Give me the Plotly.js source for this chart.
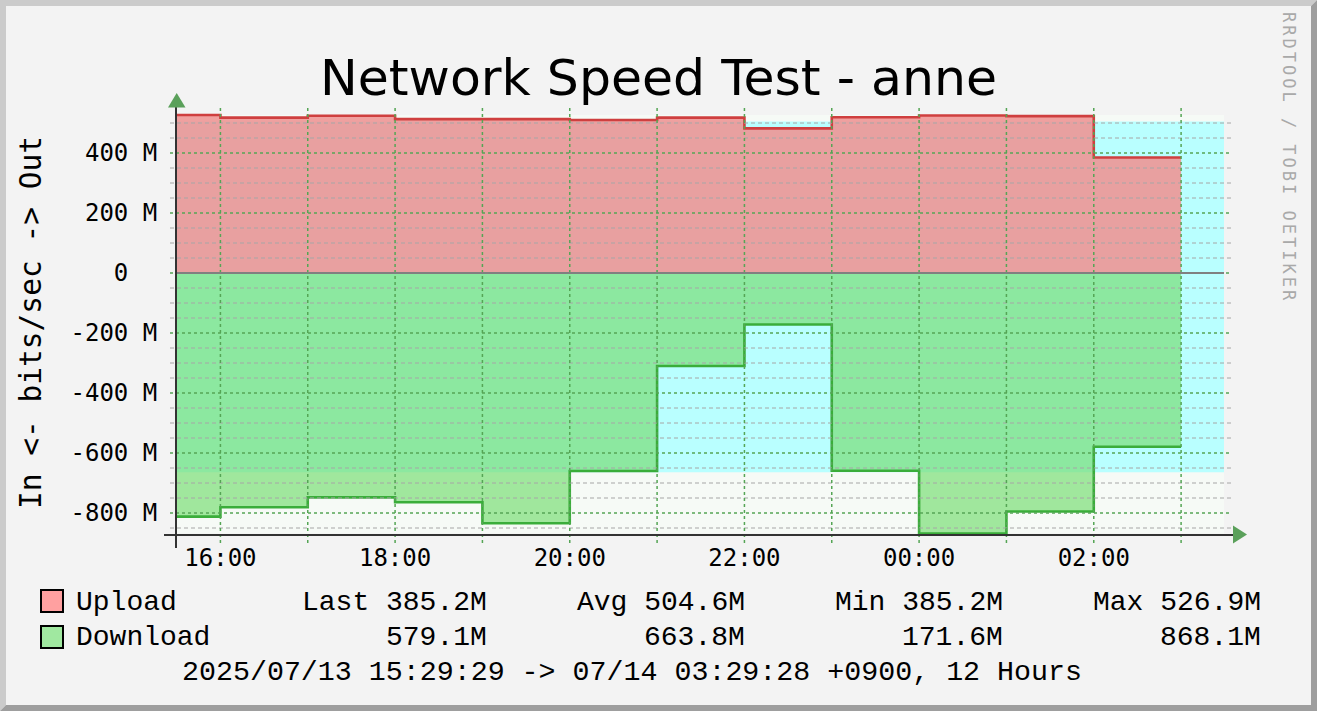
<!DOCTYPE html>
<html><head><meta charset="utf-8">
<script src="https://cdn.plot.ly/plotly-3.0.1.min.js"></script>
<style>
html,body{margin:0;padding:0;background:#F3F3F3;}
#chart{width:1317px;height:711px;}
.annotation[data-index="0"] text{letter-spacing:3px;}
</style></head><body><div id="chart"></div>
<script>
// ---------- data ----------
const titleText = 'Network Speed Test - anne';
const yAxisLabel = 'In &lt;- bits/sec -&gt; Out';
const watermark = 'RRDTOOL / TOBI OETIKER';
const rangeStart = '2025-07-13 15:29:29';
const rangeEnd = '2025-07-14 03:29:28';
const sampleTimes = ['2025-07-13 15:29:29','2025-07-13 16:00','2025-07-13 17:00','2025-07-13 18:00',
  '2025-07-13 19:00','2025-07-13 20:00','2025-07-13 21:00','2025-07-13 22:00','2025-07-13 23:00',
  '2025-07-14 00:00','2025-07-14 01:00','2025-07-14 02:00'];
const lastSampleEnd = '2025-07-14 03:00';
const uploadM = [526.9,518,524,513,513,510,518,482,519,525,523,385.2];
const downloadM = [812,781,748,764,834,660,310,171.6,659,868.1,795,579.1];
const seriesNames = ['Upload','Download'];
const statNames = ['Last','Avg','Min','Max'];
const uploadStats = [385.2,504.6,385.2,526.9];
const downloadStats = [579.1,663.8,171.6,868.1];
const yTickM = [-800,-600,-400,-200,0,200,400];
const periodText = '2025/07/13 15:29:29 -&gt; 07/14 03:29:28 +0900, 12 Hours';

// ---------- geometry / style ----------
const W = 1317, H = 711;
const PL = 176, PR = 1232, PT = 108, PB = 535;
const PW = PR - PL, PH = PB - PT;
const px2x = p => (p - PL) / PW;
const py2y = p => (PB - p) / PH;
const axisEnd = '2025-07-14 03:34:58';
const M = 1e6;
const greenGrid = '#55A555';
const grayGrid = '#A6A6A6';
const mono = 'DejaVu Sans Mono';
const legendFont = 'Liberation Mono';

const xs = sampleTimes.concat([lastSampleEnd]);
const upY = uploadM.concat([uploadM[uploadM.length-1]]).map(v => v*M);
const dnY = downloadM.concat([downloadM[downloadM.length-1]]).map(v => -v*M);

const bandX = [rangeStart, rangeEnd];
const noLine = {width:0, color:'rgba(0,0,0,0)'};
const traces = [
  {x:bandX, y:[-downloadStats[3]*M,-downloadStats[3]*M], mode:'lines', line:noLine, hoverinfo:'skip'},
  {x:bandX, y:[uploadStats[3]*M,uploadStats[3]*M], mode:'lines', line:noLine, fill:'tonexty', fillcolor:'#F6FAF6', hoverinfo:'skip'},
  {x:bandX, y:[-downloadStats[1]*M,-downloadStats[1]*M], mode:'lines', line:noLine, hoverinfo:'skip'},
  {x:bandX, y:[uploadStats[1]*M,uploadStats[1]*M], mode:'lines', line:noLine, fill:'tonexty', fillcolor:'#B9FFFF', hoverinfo:'skip'},
  {x:xs, y:upY, mode:'lines', line:{shape:'hv', color:'#CF3F3F', width:2.6}, fill:'tozeroy', fillcolor:'rgba(239,146,146,0.87)', name:seriesNames[0]},
  {x:xs, y:dnY, mode:'lines', line:{shape:'hv', color:'#3AAD3A', width:2.6}, fill:'tozeroy', fillcolor:'rgba(118,221,113,0.67)', name:seriesNames[1]}
];

// ---------- shapes ----------
const shapes = [];
for (let v = -850; v <= 500; v += 50) {
  if (v % 200 === 0) continue;
  shapes.push({type:'line', xref:'paper', yref:'y', x0:px2x(170), x1:px2x(1232), y0:v*M, y1:v*M,
    line:{color:grayGrid, width:1, dash:'4px,3px'}, layer:'above'});
}
yTickM.forEach(v => {
  shapes.push({type:'line', xref:'paper', yref:'y', x0:px2x(170), x1:px2x(1232), y0:v*M, y1:v*M,
    line:{color:greenGrid, width:1.5, dash:'3px,3px'}, layer:'above'});
});
const pad = n => (n < 10 ? '0' : '') + n;
for (let h = 16; h <= 27; h++) {
  const t = '2025-07-' + (h < 24 ? '13' : '14') + ' ' + pad(h % 24) + ':00';
  shapes.push({type:'line', xref:'x', yref:'paper', x0:t, x1:t, y0:py2y(543), y1:1,
    line:{color:greenGrid, width:1.5, dash:'3px,3px'}, layer:'above'});
}
shapes.push({type:'line', xref:'x', yref:'y', x0:rangeStart, x1:rangeEnd, y0:0, y1:0,
  line:{color:'#808080', width:2}, layer:'above'});
shapes.push({type:'line', xref:'paper', yref:'paper', x0:0, x1:0, y0:py2y(548), y1:py2y(104),
  line:{color:'#333333', width:2}, layer:'above'});
shapes.push({type:'line', xref:'paper', yref:'paper', x0:px2x(164), x1:px2x(1236), y0:0, y1:0,
  line:{color:'#333333', width:2}, layer:'above'});
const pth = pts => 'M' + pts.map(p => px2x(p[0]) + ',' + py2y(p[1])).join(' L') + ' Z';
shapes.push({type:'path', xref:'paper', yref:'paper', path:pth([[176.7,93],[185.5,107.5],[168,107.5]]),
  fillcolor:'#5AA05A', line:{width:0}, layer:'above'});
shapes.push({type:'path', xref:'paper', yref:'paper', path:pth([[1247,534.5],[1233,543.5],[1233,525.5]]),
  fillcolor:'#5AA05A', line:{width:0}, layer:'above'});
shapes.push({type:'path', xref:'paper', yref:'paper', path:pth([[0,0],[W,0],[W-6,6],[6,6],[6,H-6],[0,H]]),
  fillcolor:'#CBCBCB', line:{width:0}, layer:'above'});
shapes.push({type:'path', xref:'paper', yref:'paper', path:pth([[W,0],[W,H],[0,H],[6,H-6],[W-6,H-6],[W-6,6]]),
  fillcolor:'#9E9E9E', line:{width:0}, layer:'above'});
shapes.push({type:'rect', xref:'paper', yref:'paper', x0:px2x(41), x1:px2x(63), y0:py2y(612), y1:py2y(590),
  fillcolor:'#FFA0A0', line:{color:'#000', width:2}, layer:'above'});
shapes.push({type:'rect', xref:'paper', yref:'paper', x0:px2x(41), x1:px2x(63), y0:py2y(648), y1:py2y(626),
  fillcolor:'#A0E8A0', line:{color:'#000', width:2}, layer:'above'});

// ---------- annotations ----------
const ann = [];
ann.push({text:watermark, xref:'paper', yref:'paper', x:px2x(1289), y:py2y(158), textangle:90,
  showarrow:false, xanchor:'center', yanchor:'middle', borderpad:0,
  font:{family:mono, size:17, color:'#A9A9A9'}});
ann.push({text:yAxisLabel, xref:'paper', yref:'paper', x:px2x(31), y:py2y(323), textangle:-90,
  showarrow:false, xanchor:'center', yanchor:'middle', borderpad:0,
  font:{family:mono, size:29.5, color:'#000'}});
const colRight = [488, 746, 1004, 1262];
const rowY = [602, 637];
const fmt = v => v.toFixed(1) + 'M';
[uploadStats, downloadStats].forEach((st, r) => {
  ann.push({text:seriesNames[r], xref:'paper', yref:'paper', x:px2x(75), y:py2y(rowY[r]),
    showarrow:false, xanchor:'left', yanchor:'middle', borderpad:0,
    font:{family:legendFont, size:28, color:'#000'}});
  st.forEach((v, i) => {
    ann.push({text:(r === 0 ? statNames[i] + ' ' : '') + fmt(v), xref:'paper', yref:'paper',
      x:px2x(colRight[i]), y:py2y(rowY[r]), showarrow:false, xanchor:'right', yanchor:'middle', borderpad:0,
      font:{family:legendFont, size:28, color:'#000'}});
  });
});
ann.push({text:periodText, xref:'paper', yref:'paper', x:px2x(632), y:py2y(672),
  showarrow:false, xanchor:'center', yanchor:'middle', borderpad:0,
  font:{family:legendFont, size:28.3, color:'#000'}});

const layout = {
  width:W, height:H,
  margin:{l:PL, r:W-PR, t:PT, b:H-PB, pad:0},
  paper_bgcolor:'#F3F3F3', plot_bgcolor:'rgba(0,0,0,0)',
  showlegend:false, hovermode:false,
  title:{text:titleText, font:{family:'DejaVu Sans', size:50.5, color:'#000'},
    x:0.5, xref:'container', xanchor:'center', y:1-77/H, yref:'container', yanchor:'middle'},
  xaxis:{type:'date', range:[rangeStart, axisEnd], tickmode:'linear', tick0:'2025-07-13 16:00',
    dtick:7200000, tickformat:'%H:%M', ticks:'outside', ticklen:1, tickcolor:'rgba(0,0,0,0)',
    showgrid:false, zeroline:false, showline:false, fixedrange:true,
    tickfont:{family:mono, size:24, color:'#000'}},
  yaxis:{range:[-873.3*M, 550*M], tickmode:'array', tickvals:yTickM.map(v => v*M),
    ticktext:yTickM.map(v => v === 0 ? '0\u00a0\u00a0' : v + ' M'),
    ticks:'outside', ticklen:6, tickcolor:'rgba(0,0,0,0)', ticklabelstandoff:7,
    showgrid:false, zeroline:false, showline:false, fixedrange:true,
    tickfont:{family:mono, size:24, color:'#000'}},
  shapes:shapes, annotations:ann
};
Plotly.newPlot('chart', traces, layout, {displayModeBar:false, staticPlot:true});
</script></body></html>
